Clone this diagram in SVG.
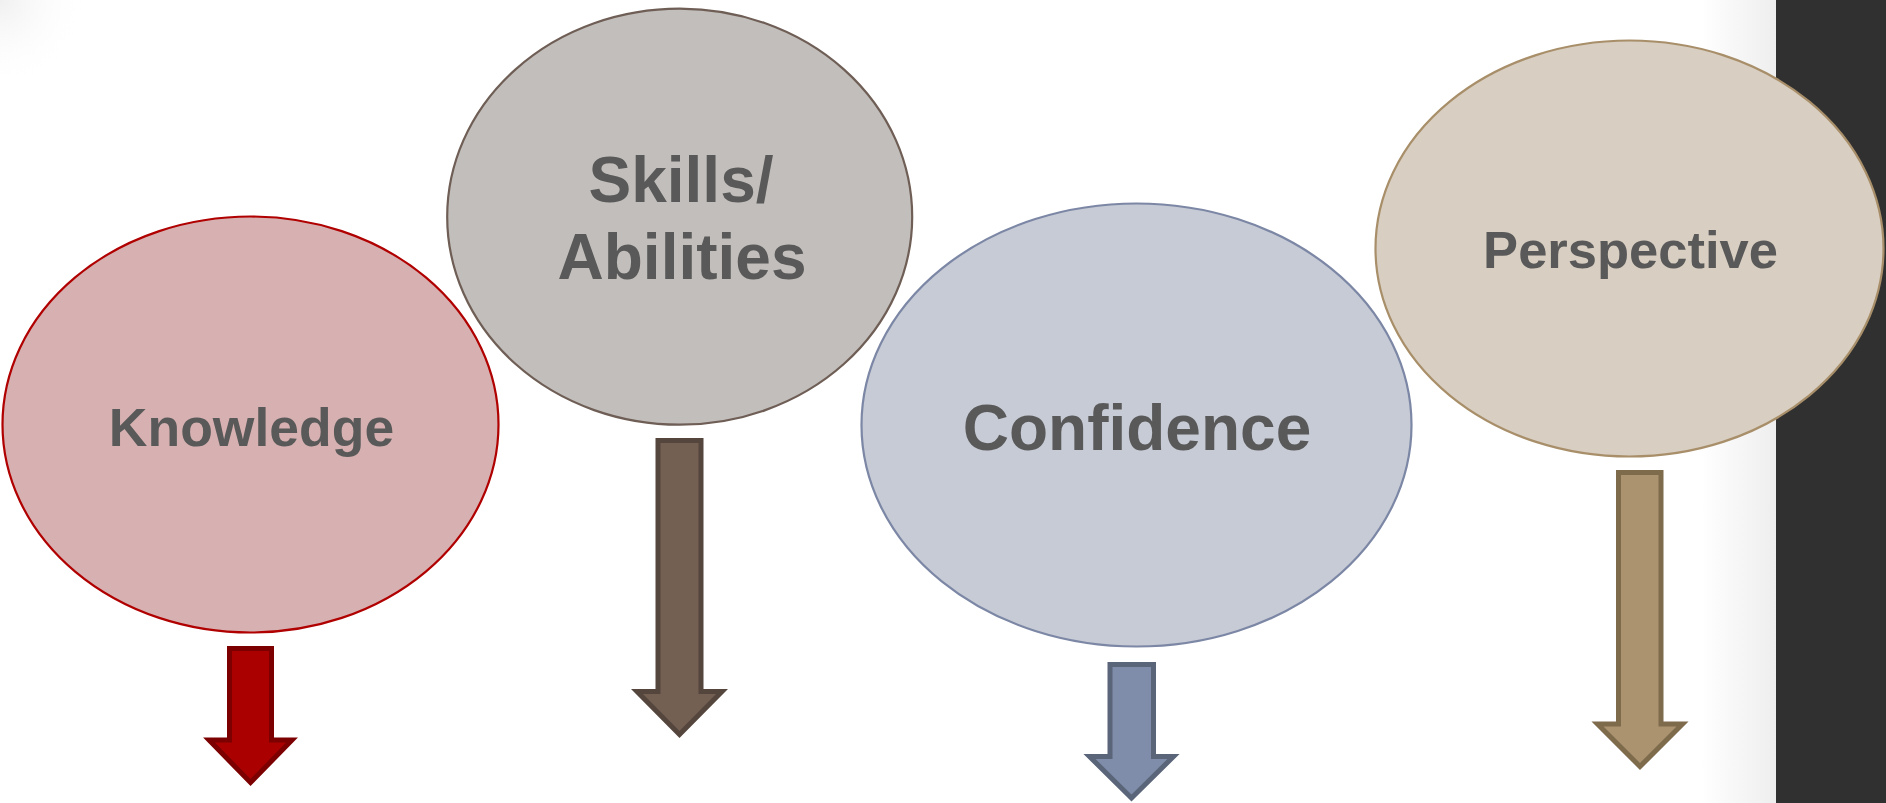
<svg xmlns="http://www.w3.org/2000/svg" width="1886" height="803" viewBox="0 0 1886 803">
  <defs>
    <linearGradient id="edgeShade" x1="0" y1="0" x2="1" y2="0">
      <stop offset="0" stop-color="#ffffff"/>
      <stop offset="1" stop-color="#eeeeee"/>
    </linearGradient>
    <radialGradient id="cornerShade" cx="0" cy="0" r="1" gradientUnits="userSpaceOnUse" gradientTransform="scale(90)">
      <stop offset="0" stop-color="#f0f0f0"/>
      <stop offset="1" stop-color="#ffffff" stop-opacity="0"/>
    </radialGradient>
    <style>
      .label { font-family: "Liberation Sans", Arial, sans-serif; font-weight: bold; fill: #595959; text-anchor: middle; }
      .bubble { stroke-width: 2.2; }
      .arrow { stroke-width: 5; stroke-linejoin: miter; stroke-miterlimit: 10; }
    </style>
  </defs>

  <!-- page background -->
  <rect x="0" y="0" width="1886" height="803" fill="#ffffff"/>
  <rect x="0" y="0" width="140" height="140" fill="url(#cornerShade)"/>
  <rect x="1700" y="0" width="76" height="803" fill="url(#edgeShade)"/>
  <rect x="1776" y="0" width="110" height="803" fill="#303030"/>

  <!-- downward arrows -->
  <g id="connectors">
    <path class="arrow" fill="#aa0000" stroke="#7c0000"
          d="M229.5,648.5 H271.5 V740 H292 L250.5,782.5 L209,740 H229.5 Z"/>
    <path class="arrow" fill="#745f53" stroke="#54453d"
          d="M658,440.5 H701 V691.5 H722 L679.5,734.5 L637,691.5 H658 Z"/>
    <path class="arrow" fill="#7f8dab" stroke="#5a6579"
          d="M1110,664.5 H1153.5 V756.5 H1173.5 L1131.5,798 L1089.5,756.5 H1110 Z"/>
    <path class="arrow" fill="#ab9370" stroke="#7e6b4c"
          d="M1618.5,472.5 H1661 V724 H1682.5 L1640,766.5 L1597.5,724 H1618.5 Z"/>
  </g>

  <g id="knowledge">
    <ellipse class="bubble" cx="250.5" cy="424.5" rx="248" ry="208" fill="#d7b1b1" stroke="#b00000"/>
    <text class="label" x="251.5" y="446" font-size="53.5">Knowledge</text>
  </g>

  <g id="skills">
    <ellipse class="bubble" cx="679.7" cy="216.7" rx="232.5" ry="208" fill="#c2bebb" stroke="#6e5e55"/>
    <text class="label" x="681" y="201.5" font-size="64">Skills/</text>
    <text class="label" x="682" y="279" font-size="64">Abilities</text>
  </g>

  <g id="confidence">
    <ellipse class="bubble" cx="1136.5" cy="425" rx="275" ry="221.5" fill="#c7cbd6" stroke="#7c87a5"/>
    <text class="label" x="1137" y="450" font-size="64">Confidence</text>
  </g>

  <g id="perspective">
    <ellipse class="bubble" cx="1629.5" cy="248.5" rx="254" ry="208" fill="#d8cec1" stroke="#a88f6a"/>
    <text class="label" x="1630.5" y="268.3" font-size="52.5">Perspective</text>
  </g>
</svg>
